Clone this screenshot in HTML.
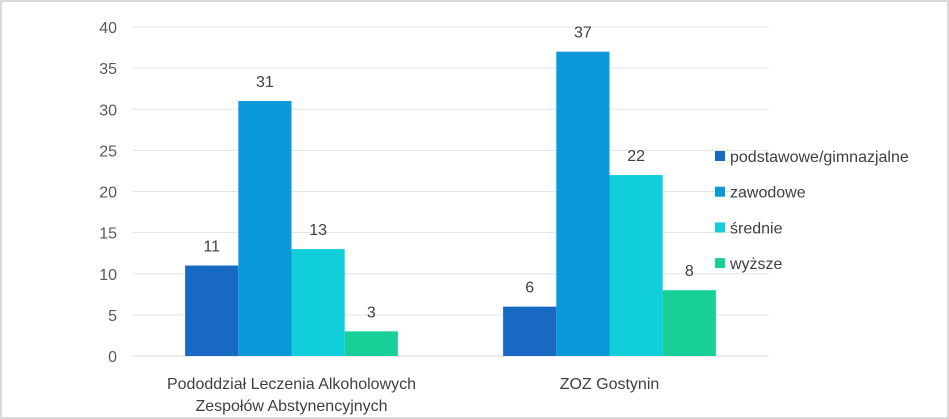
<!DOCTYPE html>
<html><head><meta charset="utf-8"><style>
html,body{margin:0;padding:0;background:#fff;}
svg{display:block;font-family:"Liberation Sans",sans-serif;}
</style></head><body>
<svg id="chart" width="949" height="419" xmlns="http://www.w3.org/2000/svg">
<rect x="1" y="1" width="947" height="417" fill="#fff" stroke="#d9d9d9" stroke-width="2"/>
<g id="grid"></g><g id="bars"></g><g id="labels"></g><g id="legend"></g>
</svg>
<script>
const categories = [["Pododdział Leczenia Alkoholowych","Zespołów Abstynencyjnych"],["ZOZ Gostynin"]];
const seriesNames = ["podstawowe/gimnazjalne","zawodowe","średnie","wyższe"];
const seriesColors = ["#1769c4","#0b98d8","#11cedb","#17cf97"];
const valuesPodstawowe = [11,6];
const valuesZawodowe = [31,37];
const valuesSrednie = [13,22];
const valuesWyzsze = [3,8];
const yTicks = [0,5,10,15,20,25,30,35,40];

const series=[valuesPodstawowe,valuesZawodowe,valuesSrednie,valuesWyzsze];
const NS="http://www.w3.org/2000/svg";
const x0=132.5,x1=768.5,yBase=356,yTop=27,yMax=40;
const y=v=>yBase-(v/yMax)*(yBase-yTop);
const catW=(x1-x0)/categories.length, barW=53.2;
function mk(t,a,p){const e=document.createElementNS(NS,t);for(const k in a)e.setAttribute(k,a[k]);p.appendChild(e);return e;}
const grid=document.getElementById('grid'),bars=document.getElementById('bars'),labels=document.getElementById('labels'),legend=document.getElementById('legend');
yTicks.forEach(t=>{
 const l=mk('line',{x1:x0,x2:x1,y1:y(t),y2:y(t),stroke:t===0?'#d9d9d9':'#e3e3e3','stroke-width':1},grid);
 
 
 const tx=mk('text',{x:117,y:y(t)+6,'text-anchor':'end','font-size':16,fill:'#595959'},labels);
 tx.textContent=t;
 
 
});
categories.forEach((c,ci)=>{
 const cx=x0+catW*(ci+0.5);
 series.forEach((s,si)=>{
  const bx=cx-2*barW+si*barW;
  const r=mk('rect',{x:bx,y:y(s[ci]),width:barW,height:yBase-y(s[ci]),fill:seriesColors[si]},bars);
  
  
  const vt=mk('text',{x:bx+barW/2,y:y(s[ci])-14,'text-anchor':'middle','font-size':16,fill:'#404040'},labels);
  vt.textContent=s[ci];
  
  
 });
 c.forEach((line,li)=>{
  const t=mk('text',{x:cx,y:389+li*22,'text-anchor':'middle','font-size':16,fill:'#404040'},labels);
  t.textContent=line;
  
  
 });
});
seriesNames.forEach((n,i)=>{
 const ly=156+i*35.7;
 const m=mk('rect',{x:715,y:ly-5,width:10,height:10,fill:seriesColors[i]},legend);
 
 
 const t=mk('text',{x:730,y:ly+6,'font-size':16,fill:'#404040'},legend);
 t.textContent=n;
 
 
});
</script>
</body></html>
